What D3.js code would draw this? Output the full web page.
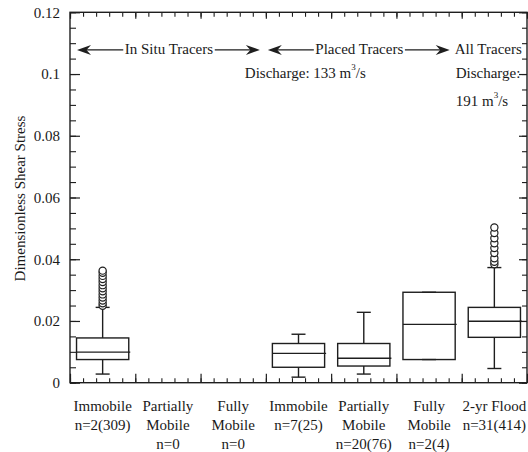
<!DOCTYPE html>
<html>
<head>
<meta charset="utf-8">
<script src="https://cdn.jsdelivr.net/npm/d3@7/dist/d3.min.js"></script>
<style>
  html, body { margin: 0; padding: 0; background: #fff; }
  svg { display: block; }
  text { font-family: "Liberation Serif", "Times New Roman", serif; fill: #1a1a1a; }
</style>
</head>
<body>
<script>
// ---------------- data ----------------
const categories = ["Immobile (In Situ)", "Partially Mobile (In Situ)", "Fully Mobile (In Situ)",
                    "Immobile (Placed)", "Partially Mobile (Placed)", "Fully Mobile (Placed)", "2-yr Flood"];
const categoryLabels = [
  ["Immobile", "n=2(309)"],
  ["Partially", "Mobile", "n=0"],
  ["Fully", "Mobile", "n=0"],
  ["Immobile", "n=7(25)"],
  ["Partially", "Mobile", "n=20(76)"],
  ["Fully", "Mobile", "n=2(4)"],
  ["2-yr Flood", "n=31(414)"]
];
const whiskerLow  = [0.0028, null, null, 0.0018, 0.0028, 0.0075, 0.0046];
const q1          = [0.0075, null, null, 0.0050, 0.0054, 0.0075, 0.0147];
const median      = [0.0099, null, null, 0.0095, 0.0079, 0.0189, 0.0199];
const q3          = [0.0145, null, null, 0.0127, 0.0127, 0.0293, 0.0244];
const whiskerHigh = [0.0244, null, null, 0.0157, 0.0228, 0.0293, 0.0373];
const outliers = [
  [0.0249, 0.0257, 0.0266, 0.0276, 0.0286, 0.0296, 0.0306, 0.0316, 0.0326, 0.0336, 0.0346, 0.0356, 0.0363],
  [], [], [], [], [],
  [0.0384, 0.0392, 0.0403, 0.0420, 0.0436, 0.0452, 0.0468, 0.0485, 0.0503]
];
const yTicks = [0, 0.02, 0.04, 0.06, 0.08, 0.1, 0.12];
const yTickLabels = ["0", "0.02", "0.04", "0.06", "0.08", "0.1", "0.12"];
const yMinorTicks = d3.range(0, 0.1201, 0.005);

// ---------------- layout ----------------
const W = 528, H = 452;
const pLeft = 70, pRight = 527, pTop = 12.3, pBottom = 382.7;
const ink = "#1e1e1e";

const svg = d3.select("body").append("svg").attr("width", W).attr("height", H);

const x = d3.scaleBand().domain(categories).range([pLeft, pRight]).padding(0);
const xPos = d3.scaleLinear().domain([0, categories.length]).range([pLeft, pRight]);
const y = d3.scaleLinear().domain([0, 0.12]).range([pBottom, pTop]);

const majorX = d3.range(0, categories.length + 0.001, 1);
const minorX = d3.range(0, categories.length + 0.001, 0.2);

function styleAxis(g, width) {
  g.select(".domain").remove();
  g.selectAll("line").attr("stroke", ink).attr("stroke-width", width);
  g.selectAll("text").attr("font-size", 15).attr("font-family", '"Liberation Serif", serif').attr("fill", "#1a1a1a");
}

// left axis
svg.append("g").attr("transform", `translate(${pLeft},0)`)
  .call(d3.axisLeft(y).tickValues(yMinorTicks).tickSizeInner(-6).tickSizeOuter(0).tickFormat(""))
  .call(g => styleAxis(g, 1.1));
svg.append("g").attr("transform", `translate(${pLeft},0)`)
  .call(d3.axisLeft(y).tickValues(yTicks).tickSizeInner(-10).tickSizeOuter(0).tickPadding(10)
        .tickFormat((d, i) => yTickLabels[i]))
  .call(g => styleAxis(g, 1.2));
// right axis
svg.append("g").attr("transform", `translate(${pRight},0)`)
  .call(d3.axisRight(y).tickValues(yMinorTicks).tickSizeInner(-5).tickSizeOuter(0).tickFormat(""))
  .call(g => styleAxis(g, 1.1));
svg.append("g").attr("transform", `translate(${pRight},0)`)
  .call(d3.axisRight(y).tickValues(yTicks).tickSizeInner(-8).tickSizeOuter(0).tickFormat(""))
  .call(g => styleAxis(g, 1.2));
// bottom axis
svg.append("g").attr("transform", `translate(0,${pBottom})`)
  .call(d3.axisBottom(xPos).tickValues(minorX).tickSizeInner(-4.5).tickSizeOuter(0).tickFormat(""))
  .call(g => styleAxis(g, 1.1));
svg.append("g").attr("transform", `translate(0,${pBottom})`)
  .call(d3.axisBottom(xPos).tickValues(majorX).tickSizeInner(-9).tickSizeOuter(0).tickFormat(""))
  .call(g => styleAxis(g, 1.2));
// top axis
svg.append("g").attr("transform", `translate(0,${pTop})`)
  .call(d3.axisTop(xPos).tickValues(minorX).tickSizeInner(-4.5).tickSizeOuter(0).tickFormat(""))
  .call(g => styleAxis(g, 1.1));
svg.append("g").attr("transform", `translate(0,${pTop})`)
  .call(d3.axisTop(xPos).tickValues(majorX).tickSizeInner(-6.5).tickSizeOuter(0).tickFormat(""))
  .call(g => styleAxis(g, 1.2));

// frame
svg.append("rect").attr("x", pLeft).attr("y", pTop).attr("width", pRight - pLeft).attr("height", pBottom - pTop)
  .attr("fill", "none").attr("stroke", ink).attr("stroke-width", 1.4);

// category labels
categories.forEach((c, i) => {
  const t = svg.append("text").attr("text-anchor", "middle").attr("font-size", 15);
  categoryLabels[i].forEach((line, j) => {
    t.append("tspan").attr("x", x(c) + x.bandwidth() / 2).attr("y", 411 + j * 19).text(line);
  });
});

// y label
svg.append("text")
  .attr("transform", `translate(24.5,${(pTop + pBottom) / 2 + 1}) rotate(-90)`)
  .attr("text-anchor", "middle").attr("font-size", 15)
  .text("Dimensionless Shear Stress");

// ---------------- boxes ----------------
const boxW = x.bandwidth() * 0.8;
const capW = 14;
const boxes = svg.append("g").attr("stroke", ink).attr("stroke-width", 1.4).attr("fill", "none");
categories.forEach((c, i) => {
  if (median[i] == null) return;
  const cx = x(c) + x.bandwidth() / 2;
  const x0 = cx - boxW / 2, x1 = cx + boxW / 2;
  const g = boxes.append("g");
  g.append("line").attr("x1", cx).attr("x2", cx).attr("y1", y(q3[i])).attr("y2", y(whiskerHigh[i]));
  g.append("line").attr("x1", cx).attr("x2", cx).attr("y1", y(q1[i])).attr("y2", y(whiskerLow[i]));
  g.append("line").attr("x1", cx - capW / 2).attr("x2", cx + capW / 2).attr("y1", y(whiskerHigh[i])).attr("y2", y(whiskerHigh[i]));
  g.append("line").attr("x1", cx - capW / 2).attr("x2", cx + capW / 2).attr("y1", y(whiskerLow[i])).attr("y2", y(whiskerLow[i]));
  g.append("rect").attr("x", x0).attr("y", y(q3[i])).attr("width", boxW).attr("height", y(q1[i]) - y(q3[i]));
  g.append("line").attr("x1", x0).attr("x2", x1 + 1.5).attr("y1", y(median[i])).attr("y2", y(median[i]));
  g.selectAll("circle").data(outliers[i]).join("circle")
    .attr("cx", cx).attr("cy", d => y(d)).attr("r", 3.6)
    .attr("fill", "#fff").attr("stroke-width", 1.2);
});

// ---------------- annotations ----------------
const arrowY = y(0.1078);
function arrowHead(tipX, dir) {
  const L = 14, Hh = 5, N = 9.5;
  return `M${tipX},${arrowY} L${tipX - dir * L},${arrowY - Hh} L${tipX - dir * N},${arrowY} L${tipX - dir * L},${arrowY + Hh} Z`;
}
function bracket(x1, x2, label) {
  const g = svg.append("g");
  g.append("line").attr("x1", x1 + 8).attr("x2", x2 - 8).attr("y1", arrowY).attr("y2", arrowY)
    .attr("stroke", ink).attr("stroke-width", 1.3);
  g.append("path").attr("d", arrowHead(x1, -1)).attr("fill", ink);
  g.append("path").attr("d", arrowHead(x2, 1)).attr("fill", ink);
  const t = g.append("text").attr("x", (x1 + x2) / 2 + 0.5).attr("y", arrowY + 4.5)
    .attr("text-anchor", "middle").attr("font-size", 15).text(label);
  const bb = t.node().getBBox();
  g.insert("rect", "text").attr("x", bb.x - 1.5).attr("y", bb.y).attr("width", bb.width + 3).attr("height", bb.height)
    .attr("fill", "#fff");
}
bracket(xPos(0) + 7, xPos(3) - 6, "In Situ Tracers");
bracket(xPos(3) + 2, xPos(6) - 12, "Placed Tracers");
svg.append("text").attr("x", xPos(6) - 7).attr("y", arrowY + 4.5).attr("font-size", 15).text("All Tracers");

function discharge(xs, ys, pre, num) {
  const t = svg.append("text").attr("x", xs).attr("y", ys).attr("font-size", 15);
  t.append("tspan").text(pre + num + " m");
  t.append("tspan").attr("font-size", 9).attr("dy", -8).text("3");
  t.append("tspan").attr("dy", 8).text("/s");
}
discharge(xPos(3) - 21, 78, "Discharge: ", "133");
svg.append("text").attr("x", xPos(6) - 6).attr("y", 78).attr("font-size", 15).text("Discharge:");
discharge(xPos(6) - 6, 106, "", "191");
</script>
</body>
</html>
